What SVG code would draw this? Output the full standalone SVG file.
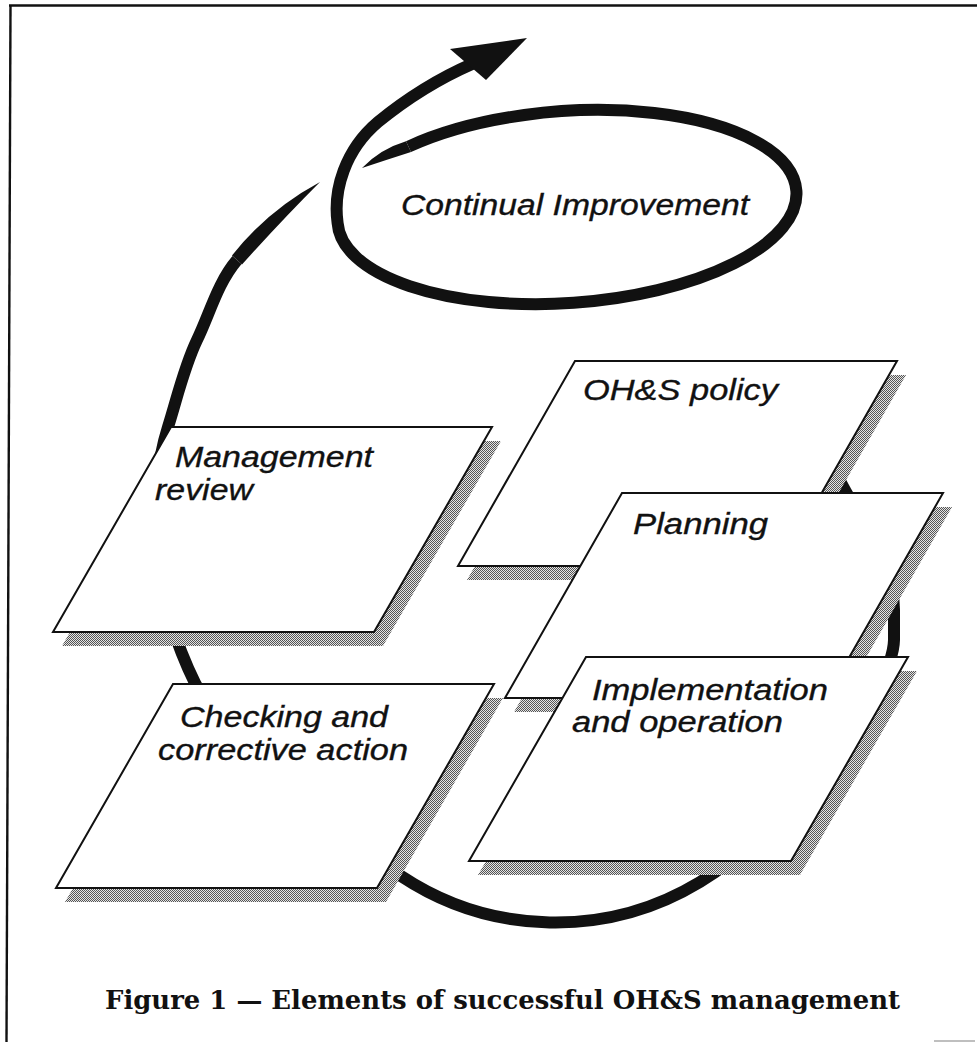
<svg xmlns="http://www.w3.org/2000/svg" width="977" height="1042" viewBox="0 0 977 1042">
  <style>
    .face { fill: #ffffff; stroke: #111111; stroke-width: 2; stroke-linejoin: miter; }
    .shadow { fill: url(#dither); stroke: none; }
    .label { font-family: "Liberation Sans", Arial, sans-serif; font-style: italic; font-size: 29px; fill: #111111; stroke: #111111; stroke-width: 0.35; }
    .loop { fill: none; stroke: #111111; stroke-width: 12; stroke-linecap: butt; stroke-linejoin: round; }
    .ink { fill: #111111; stroke: none; }
    .caption { font-family: "DejaVu Serif", "Liberation Serif", serif; font-weight: bold; font-size: 26px; fill: #111111; }
  </style>
  <defs>
    <!-- dithered grey used for drop shadows -->
    <pattern id="dither" width="2" height="2" patternUnits="userSpaceOnUse">
      <rect width="2" height="2" fill="#e4e4e4"/>
      <rect width="1" height="1" fill="#555555"/>
      <rect x="1" y="1" width="1" height="1" fill="#555555"/>
    </pattern>
  </defs>

  <rect width="977" height="1042" fill="#ffffff"/>

  <!-- frame -->
  <g id="frame" fill="none" stroke="#111111">
    <path d="M 9,5.5 L 977,5.5" stroke-width="2.6"/>
    <path d="M 10.5,5 L 6.5,1042" stroke-width="2.4"/>
    <path d="M 934,1041 L 975,1041" stroke="#aaaaaa" stroke-width="1.5"/>
  </g>

  <!-- connectors: the large improvement cycle and the continual improvement spiral -->
  <g id="connectors">
    <path class="loop" d="M 790,380 C 805,405 825,455 846,492 C 867,529 894,565 894,610 L 894,640 C 893,690 796,823 700,882 A 279 279 0 0 1 401,876 C 334,833 213,719 195,683 C 181.5,656 152,580 155,540 C 155,500 156,465 168,427 C 177,398.5 184,367 197,340 C 210,313 217.5,283 237,260"/>
    <path class="ink" d="M 232,255.5 Q 268,210 320,182 Q 282,220 242,264.5 Z"/>

    <path class="ink" d="M 362,168 Q 380,149 406,141.2 L 411,152 Q 386,160 362,168 Z"/>
    <path class="loop" stroke-width="13" d="M 408.5,146.6 A 230 96 -4 0 1 796.4,191 A 230 96 -4 0 1 573.7,302.8 A 230 96 -4 0 1 337.6,223 C 333,190 345,150 378,122 C 405,100 440,78 472,64"/>
    <polygon class="ink" points="450,49 527,38 486,80"/>
  </g>

  <g id="continual-improvement">
    <text class="label" x="401" y="215" textLength="348" lengthAdjust="spacingAndGlyphs">Continual Improvement</text>
  </g>

  <g id="management-review">
    <polygon class="shadow" points="180,441 501,441 383,646 62,646"/>
    <polygon class="face" points="171,427 492,427 374,632 53,632"/>
    <text class="label" x="175" y="467" textLength="198" lengthAdjust="spacingAndGlyphs">Management</text>
    <text class="label" x="155" y="500" textLength="98" lengthAdjust="spacingAndGlyphs">review</text>
  </g>

  <g id="checking">
    <polygon class="shadow" points="182,698 503,698 386,902 65,902"/>
    <polygon class="face" points="173,684 494,684 377,888 56,888"/>
    <text class="label" x="180" y="727" textLength="208" lengthAdjust="spacingAndGlyphs">Checking and</text>
    <text class="label" x="158" y="760" textLength="250" lengthAdjust="spacingAndGlyphs">corrective action</text>
  </g>

  <g id="policy">
    <polygon class="shadow" points="584,375 906,375 789,580 467,580"/>
    <polygon class="face" points="575,361 897,361 780,566 458,566"/>
    <text class="label" x="583" y="400" textLength="195" lengthAdjust="spacingAndGlyphs">OH&amp;S policy</text>
  </g>

  <g id="planning">
    <polygon class="shadow" points="631,507 952,507 835,712 514,712"/>
    <polygon class="face" points="622,493 943,493 826,698 505,698"/>
    <text class="label" x="633" y="534" textLength="135" lengthAdjust="spacingAndGlyphs">Planning</text>
  </g>

  <g id="implementation">
    <polygon class="shadow" points="595,671 917,671 800,875 478,875"/>
    <polygon class="face" points="586,657 908,657 791,861 469,861"/>
    <text class="label" x="592" y="700" textLength="236" lengthAdjust="spacingAndGlyphs">Implementation</text>
    <text class="label" x="572" y="732" textLength="211" lengthAdjust="spacingAndGlyphs">and operation</text>
  </g>

  <g id="caption">
    <text class="caption" x="105" y="1009" textLength="795" lengthAdjust="spacingAndGlyphs">Figure 1 — Elements of successful OH&amp;S management</text>
  </g>
</svg>
